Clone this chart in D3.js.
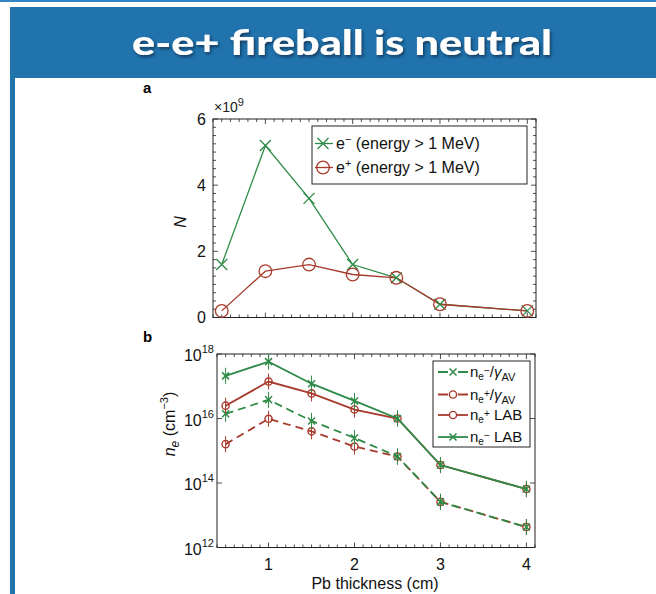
<!DOCTYPE html>
<html><head><meta charset="utf-8">
<script src="https://cdn.jsdelivr.net/npm/d3@7"></script>
<style>
html,body{margin:0;padding:0;background:#fff;}
svg{display:block;}
</style></head>
<body>
<script>
// ---- data ----
const thickness = [0.5, 1, 1.5, 2, 2.5, 3, 4];
const nElectron = [1.6, 5.2, 3.6, 1.6, 1.2, 0.4, 0.2];   // ×10^9
const nPositron = [0.2, 1.4, 1.6, 1.3, 1.2, 0.4, 0.2];   // ×10^9
const neMinusGamma = [1.4e16, 3.8e16, 8.4e15, 2.5e15, 6.6e14, 2.6e13, 4.3e12];
const nePlusGamma  = [1.6e15, 9.8e15, 4.0e15, 1.35e15, 6.6e14, 2.6e13, 4.3e12];
const nePlusLab    = [2.5e16, 1.4e17, 6.0e16, 1.9e16, 1.0e16, 3.6e14, 6.5e13];
const neMinusLab   = [2.1e17, 5.8e17, 1.2e17, 3.5e16, 1.0e16, 3.6e14, 6.5e13];
const errDecades   = [0.25, 0.25, 0.25, 0.25, 0.25, 0.25, 0.25];
const xTicks = [1, 2, 3, 4];
const yTicksTop = [0, 2, 4, 6];
const yTicksBottomExp = [12, 14, 16, 18];

const GREEN = "#2e8b47", RED = "#a83a2c", BLUE = "#2173ad";
const FONT = "'Liberation Sans', Arial, sans-serif";

const W = 656, H = 594;
const svg = d3.select("body").append("svg").attr("width", W).attr("height", H);

// ---- frame / header ----
svg.append("rect").attr("x",0).attr("y",0).attr("width",W).attr("height",2).attr("fill","#3384c4");
svg.append("rect").attr("x",10).attr("y",7).attr("width",W-10).attr("height",71).attr("fill",BLUE);
svg.append("rect").attr("x",10).attr("y",78).attr("width",5).attr("height",H-78).attr("fill",BLUE);
const defs = svg.append("defs");
const f = defs.append("filter").attr("id","sh").attr("x","-10%").attr("y","-30%").attr("width","120%").attr("height","160%");
f.append("feDropShadow").attr("dx",1.5).attr("dy",2).attr("stdDeviation",1.5).attr("flood-color","#0b2a44").attr("flood-opacity",0.75);
svg.append("text").attr("x",342).attr("y",55).attr("text-anchor","middle")
  .attr("font-family","Lato, 'Open Sans', sans-serif").attr("font-weight",900).attr("font-size",35)
  .attr("fill","#fff").attr("filter","url(#sh)")
  .attr("textLength",420).attr("lengthAdjust","spacingAndGlyphs")
  .text("e-e+ fireball is neutral");

// ---- helpers ----
function box(g, x, y, ticksX, minorX, ticksY, minorY) {
  const [x0,x1] = x.range(), [y0,y1] = y.range();
  g.append("rect").attr("x",x0).attr("y",y1).attr("width",x1-x0).attr("height",y0-y1)
    .attr("fill","none").attr("stroke","#222").attr("stroke-width",1);
  const tk = (xa,ya,xb,yb,w) => g.append("line").attr("x1",xa).attr("y1",ya).attr("x2",xb).attr("y2",yb).attr("stroke","#222").attr("stroke-width",w||0.8);
  minorX.forEach(v=>{const px=x(v); tk(px,y0,px,y0-3); tk(px,y1,px,y1+3);});
  ticksX.forEach(v=>{const px=x(v); tk(px,y0,px,y0-5); tk(px,y1,px,y1+5);});
  minorY.forEach(v=>{const py=y(v); tk(x0,py,x0+3,py); tk(x1,py,x1-3,py);});
  ticksY.forEach(v=>{const py=y(v); tk(x0,py,x0+5,py); tk(x1,py,x1-5,py);});
}
const minorXVals = d3.range(4,42).map(i=>i/10).filter(v=>v>=0.4 && v<=4.1 && Math.abs(v-Math.round(v))>1e-6);

function xMarker(g, cx, cy, s, color, w) {
  g.append("path").attr("d",`M${cx-s},${cy-s}L${cx+s},${cy+s}M${cx-s},${cy+s}L${cx+s},${cy-s}`)
    .attr("stroke",color).attr("stroke-width",w).attr("fill","none");
}

// ---- panel a ----
const ga = svg.append("g");
const xa = d3.scaleLinear().domain([0.4,4.1]).range([213,536]);
const ya = d3.scaleLinear().domain([0,6]).range([317.5,119]);
box(ga, xa, ya, xTicks, minorXVals, yTicksTop, d3.range(0,6.01,0.25).filter(v=>v%2!==0));
yTicksTop.forEach(v=>ga.append("text").attr("x",206).attr("y",ya(v)+5.5).attr("text-anchor","end")
  .attr("font-family",FONT).attr("font-size",16).attr("fill","#111").text(v));
const mult = ga.append("text").attr("x",214).attr("y",112).attr("font-family",FONT).attr("font-size",14).attr("fill","#222");
mult.append("tspan").text("×10");
mult.append("tspan").attr("dy",-6).attr("font-size",11).text("9");
ga.append("text").attr("transform","translate(186,222) rotate(-90)").attr("text-anchor","middle")
  .attr("font-family",FONT).attr("font-style","italic").attr("font-size",16).attr("fill","#111").text("N");
svg.append("text").attr("x",143).attr("y",93).attr("font-family",FONT).attr("font-weight","bold").attr("font-size",15).attr("fill","#000").text("a");

const lineA = d3.line().x((d,i)=>xa(thickness[i])).y(d=>ya(d));
ga.append("path").datum(nElectron).attr("d",lineA).attr("fill","none").attr("stroke",GREEN).attr("stroke-width",1.3);
ga.append("path").datum(nPositron).attr("d",lineA).attr("fill","none").attr("stroke",RED).attr("stroke-width",1.3);
nElectron.forEach((v,i)=>xMarker(ga, xa(thickness[i]), ya(v), 5.5, GREEN, 1.3));
nPositron.forEach((v,i)=>ga.append("circle").attr("cx",xa(thickness[i])).attr("cy",ya(v)).attr("r",6.3)
  .attr("fill","none").attr("stroke",RED).attr("stroke-width",1.3));

// legend a
const la = ga.append("g");
la.append("rect").attr("x",312).attr("y",126).attr("width",215).attr("height",58).attr("fill","#fff").attr("stroke","#222").attr("stroke-width",1);
const legA = [{c:GREEN, m:"x", y:143.5, s:"−"},{c:RED, m:"o", y:167.5, s:"+"}];
legA.forEach(e=>{
  la.append("line").attr("x1",315).attr("x2",333).attr("y1",e.y).attr("y2",e.y).attr("stroke",e.c).attr("stroke-width",1.3);
  if (e.m==="x") xMarker(la,323,e.y,5.5,e.c,1.3);
  else la.append("circle").attr("cx",323).attr("cy",e.y).attr("r",6.3).attr("fill","none").attr("stroke",e.c).attr("stroke-width",1.3);
  const t = la.append("text").attr("x",336).attr("y",e.y+5.5).attr("font-family",FONT).attr("font-size",16).attr("fill","#111");
  t.append("tspan").text("e");
  t.append("tspan").attr("dy",-6).attr("font-size",11).text(e.s);
  t.append("tspan").attr("dy",6).text(" (energy > 1 MeV)");
});

// ---- panel b ----
const gb = svg.append("g");
const xb = d3.scaleLinear().domain([0.4,4.1]).range([217,535]);
const yb = d3.scaleLog().domain([1e12,1e18]).range([547.5,354]);
box(gb, xb, yb, xTicks, minorXVals, yTicksBottomExp.map(e=>Math.pow(10,e)), []);
yTicksBottomExp.forEach(e=>{
  const t = gb.append("text").attr("x",214).attr("y",yb(Math.pow(10,e))+7).attr("text-anchor","end")
    .attr("font-family",FONT).attr("font-size",16).attr("fill","#111");
  t.append("tspan").text("10");
  t.append("tspan").attr("dy",-8).attr("font-size",11).text(e);
});
xTicks.forEach(v=>gb.append("text").attr("x",xb(v)).attr("y",570).attr("text-anchor","middle")
  .attr("font-family",FONT).attr("font-size",16).attr("fill","#111").text(v));
gb.append("text").attr("x",375).attr("y",589).attr("text-anchor","middle")
  .attr("font-family",FONT).attr("font-size",16).attr("fill","#111").text("Pb thickness (cm)");
const yl = gb.append("text").attr("transform","translate(175,424) rotate(-90)").attr("text-anchor","middle")
  .attr("font-family",FONT).attr("font-size",16).attr("fill","#111");
yl.append("tspan").attr("font-style","italic").text("n");
yl.append("tspan").attr("font-style","italic").attr("font-size",12).attr("dy",4).text("e");
yl.append("tspan").attr("dy",-4).text(" (cm");
yl.append("tspan").attr("dy",-7).attr("font-size",11).text("−3");
yl.append("tspan").attr("dy",7).text(")");
svg.append("text").attr("x",143).attr("y",342).attr("font-family",FONT).attr("font-weight","bold").attr("font-size",15).attr("fill","#000").text("b");

const seriesB = [
  {vals: nePlusGamma, c: RED, m:"o", dash:"8,5"},
  {vals: neMinusGamma, c: GREEN, m:"x", dash:"8,5"},
  {vals: nePlusLab, c: RED, m:"o", dash:null},
  {vals: neMinusLab, c: GREEN, m:"x", dash:null},
];
const lineB = d3.line().x((d,i)=>xb(thickness[i])).y(d=>yb(d));
seriesB.forEach(s=>{
  gb.append("path").datum(s.vals).attr("d",lineB).attr("fill","none").attr("stroke",s.c).attr("stroke-width",1.8)
    .attr("stroke-dasharray",s.dash);
  s.vals.forEach((v,i)=>{
    const cx = xb(thickness[i]), cy = yb(v);
    const lo = yb(v/Math.pow(10,errDecades[i])), hi = yb(v*Math.pow(10,errDecades[i]));
    gb.append("line").attr("x1",cx).attr("x2",cx).attr("y1",lo).attr("y2",hi).attr("stroke",s.c).attr("stroke-width",1);
    if (s.m==="x") xMarker(gb,cx,cy,3.5,s.c,1.5);
    else gb.append("circle").attr("cx",cx).attr("cy",cy).attr("r",3.6).attr("fill","none").attr("stroke",s.c).attr("stroke-width",1.4);
  });
});

// legend b
const lb = gb.append("g");
lb.append("rect").attr("x",433).attr("y",361).attr("width",97).attr("height",86).attr("fill","#fff").attr("stroke","#222").attr("stroke-width",1);
const legB = [
  {c:GREEN, m:"x", dash:true, y:372, sign:"−", gamma:true},
  {c:RED, m:"o", dash:true, y:394.5, sign:"+", gamma:true},
  {c:RED, m:"o", dash:false, y:415, sign:"+", gamma:false},
  {c:GREEN, m:"x", dash:false, y:437, sign:"−", gamma:false},
];
legB.forEach(e=>{
  lb.append("line").attr("x1",438).attr("x2",468).attr("y1",e.y).attr("y2",e.y).attr("stroke",e.c).attr("stroke-width",1.8)
    .attr("stroke-dasharray", e.dash ? "10,10,10" : null);
  if (e.m==="x") xMarker(lb,453,e.y,3.5,e.c,1.5);
  else lb.append("circle").attr("cx",453).attr("cy",e.y).attr("r",3.6).attr("fill","#fff").attr("stroke",e.c).attr("stroke-width",1.4);
  const t = lb.append("text").attr("x",470).attr("y",e.y+5).attr("font-family",FONT).attr("font-size",15).attr("fill","#111");
  t.append("tspan").text("n");
  t.append("tspan").attr("dy",3).attr("font-size",10).text("e");
  t.append("tspan").attr("dy",-6).attr("font-size",10).text(e.sign);
  if (e.gamma) {
    t.append("tspan").attr("dy",3).text("/");
    t.append("tspan").attr("font-style","italic").text("γ");
    t.append("tspan").attr("dy",4).attr("font-size",11).text("AV");
  } else {
    t.append("tspan").attr("dy",3).text(" LAB");
  }
});
</script>
</body></html>
